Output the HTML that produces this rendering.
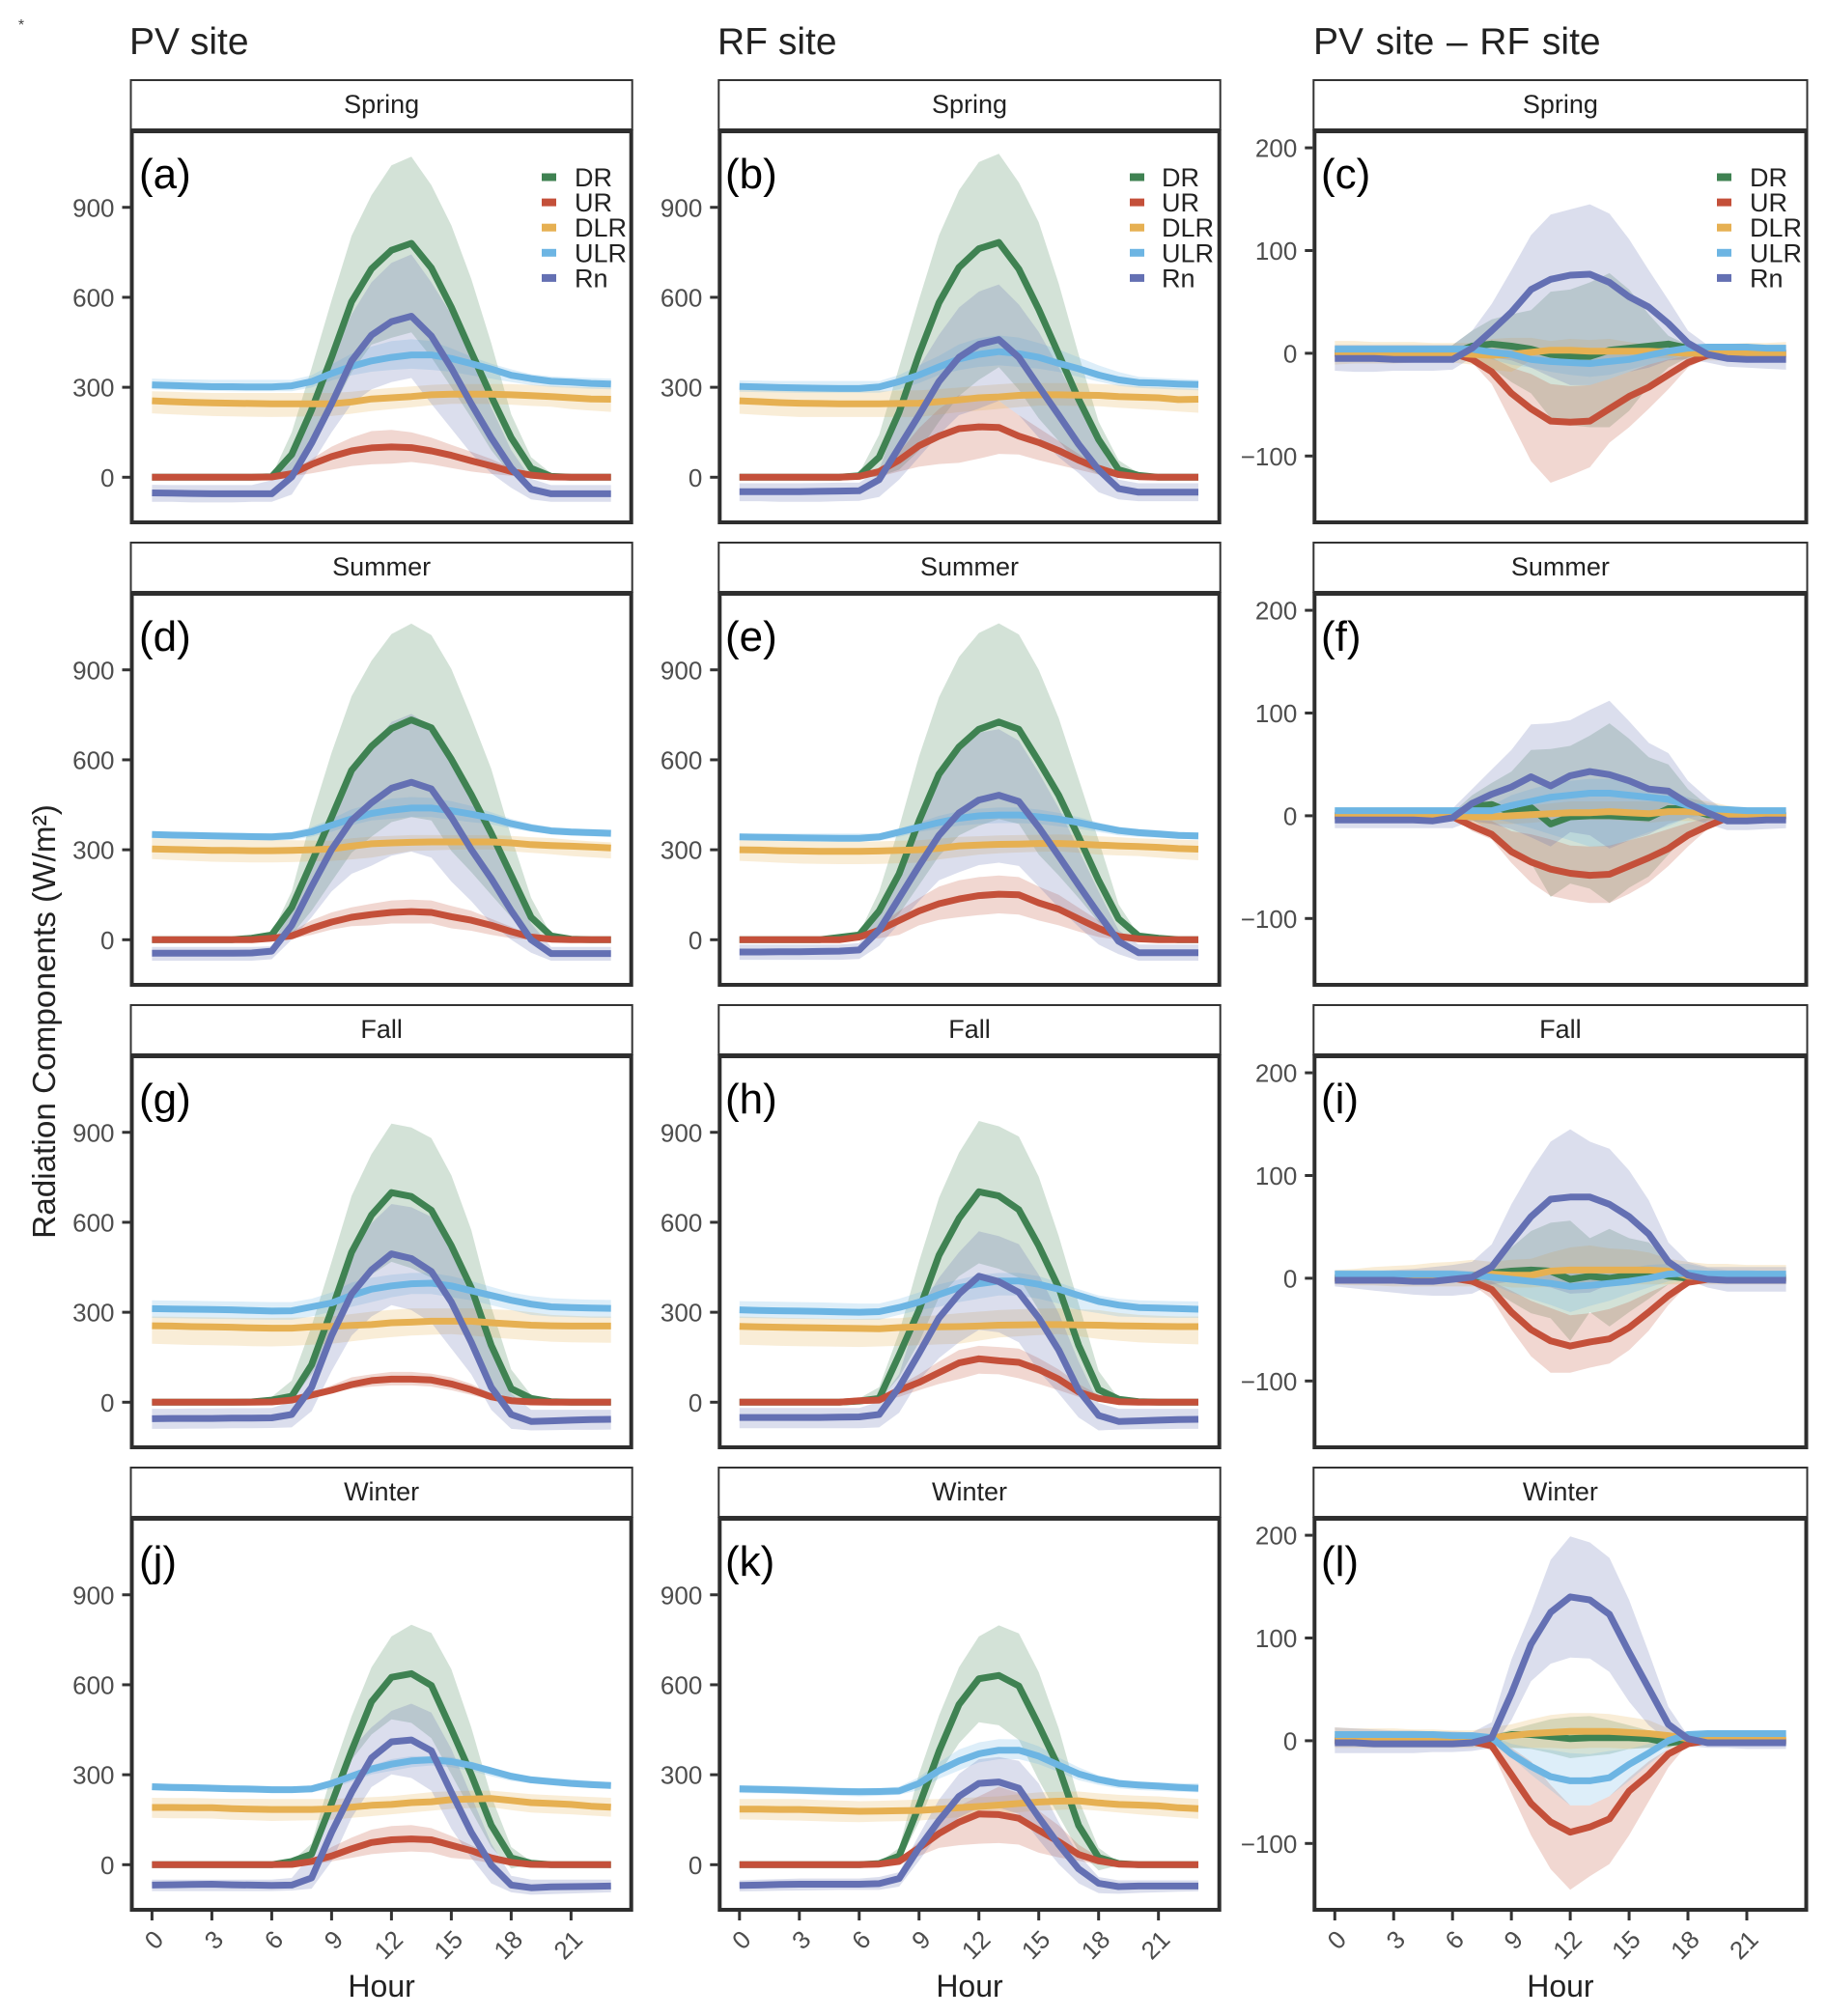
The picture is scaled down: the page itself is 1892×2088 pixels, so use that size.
<!DOCTYPE html>
<html lang="en">
<head>
<meta charset="utf-8">
<title>Radiation Components: PV site vs RF site</title>
<style>
html,body{margin:0;padding:0;background:#fff;}
svg{display:block;font-family:"Liberation Sans",sans-serif;}
</style>
</head>
<body>
<svg id="chart" xmlns="http://www.w3.org/2000/svg" width="1892" height="2088" viewBox="0 0 1892 2088">
<rect x="0" y="0" width="1892" height="2088" fill="#fff"/>
<text x="22" y="31" font-size="16" fill="#444" text-anchor="middle">*</text>
<text x="134" y="56" font-size="39" fill="#222">PV site</text>
<text x="743" y="56" font-size="39" fill="#222">RF site</text>
<text x="1360" y="56" font-size="39" fill="#222" word-spacing="1.8">PV site – RF site</text>
<text transform="translate(57,1058) rotate(-90)" font-size="33.3" fill="#222" text-anchor="middle">Radiation Components (W/m²)</text>
</svg>
<script>
const hours=[0,1,2,3,4,5,6,7,8,9,10,11,12,13,14,15,16,17,18,19,20,21,22,23];
const hourTicks=[0,3,6,9,12,15,18,21];
const hourTickLabels=['0','3','6','9','12','15','18','21'];
const fluxTicks=[0,300,600,900];
const fluxTickLabels=['0','300','600','900'];
const diffTicks=[-100,0,100,200];
const diffTickLabels=['−100','0','100','200'];
const seasons=['Spring','Summer','Fall','Winter'];
const seriesNames=['DR','UR','DLR','ULR','Rn'];
const panelIds=['a','b','c','d','e','f','g','h','i','j','k','l'];

const a_DR=[0,0,0,0,0,0,2,76,225,400,585,695,757,780,698,567,418,270,132,30,3,0,0,0];
const a_DR_hi=[0,0,0,0,0,0,5,150,364,590,805,940,1040,1069,974,840,662,448,210,67,13,0,0,0];
const a_DR_lo=[0,0,0,0,0,0,0,7,90,220,350,442,465,483,400,300,198,90,7,0,0,0,0,0];
const a_UR=[0,0,0,0,0,0,1,12,43,69,88,98,101,99,88,73,55,38,19,7,1,0,0,0];
const a_UR_hi=[0,0,0,0,0,0,1,21,61,102,132,154,158,150,132,108,85,61,31,10,1,0,0,0];
const a_UR_lo=[0,0,0,0,0,0,0,3,13,25,37,43,45,51,43,31,19,11,5,0,0,0,0,0];
const a_DLR=[255,252,250,248,247,246,245,245,245,245,251,261,265,269,275,277,277,277,275,272,269,265,261,260];
const a_DLR_hi=[287,285,283,281,281,281,281,281,281,281,285,292,298,303,308,311,311,311,311,308,305,302,300,299];
const a_DLR_lo=[213,210,207,204,203,202,201,202,203,204,212,221,227,233,240,245,245,244,242,238,235,227,222,218];
const a_ULR=[308,306,304,302,302,301,301,305,319,346,370,388,400,408,408,396,379,361,340,329,320,317,313,311];
const a_ULR_hi=[329,327,326,325,325,325,325,325,340,376,412,436,454,460,454,430,402,379,360,344,336,333,331,329];
const a_ULR_lo=[293,291,289,288,287,287,287,287,299,323,340,352,358,362,358,352,340,329,317,307,301,298,295,293];
const a_Rn=[-52,-53,-54,-55,-55,-55,-55,1,114,245,388,474,519,537,471,364,245,132,31,-40,-55,-55,-55,-55];
const a_Rn_hi=[-25,-26,-26,-26,-26,-26,-10,55,245,400,543,650,715,743,650,543,400,233,90,-5,-26,-26,-26,-26];
const a_Rn_lo=[-82,-82,-84,-84,-84,-82,-82,-58,43,150,245,293,317,331,245,162,79,13,-35,-74,-82,-82,-82,-82];

const b_DR=[0,0,0,0,0,0,5,67,217,410,582,700,762,783,694,560,410,260,126,25,6,0,0,0];
const b_DR_hi=[0,0,0,0,0,0,14,142,367,592,807,957,1051,1079,983,850,646,410,185,57,14,0,0,0];
const b_DR_lo=[0,0,0,0,0,0,0,3,25,89,185,271,325,367,292,196,121,46,9,0,0,0,0,0];
const b_UR=[0,0,0,0,0,0,3,19,57,105,137,162,168,166,137,116,89,57,30,9,2,0,0,0];
const b_UR_hi=[0,0,0,0,0,0,3,19,84,164,228,274,271,255,207,164,121,78,35,6,2,0,0,0];
const b_UR_lo=[0,0,0,0,0,0,0,2,19,35,44,48,62,78,76,57,41,25,9,1,0,0,0,0];
const b_DLR=[255,252,249,247,246,245,245,245,246,247,252,258,265,268,273,275,275,274,273,269,267,265,259,260];
const b_DLR_hi=[292,291,289,288,288,288,288,288,289,290,294,299,305,310,314,314,314,314,311,308,303,300,297,294];
const b_DLR_lo=[212,208,204,201,201,201,201,201,201,201,209,217,222,228,234,239,239,238,237,232,228,224,219,215];
const b_ULR=[303,301,299,298,297,296,296,301,319,341,368,394,410,419,412,400,380,362,341,325,316,314,311,309];
const b_ULR_hi=[323,322,321,321,321,321,321,321,341,373,405,443,464,473,466,448,426,400,373,351,335,331,328,325];
const b_ULR_lo=[285,284,283,282,282,282,282,282,293,314,341,357,368,373,368,362,351,335,319,305,298,295,292,290];
const b_Rn=[-48,-48,-48,-48,-47,-46,-45,-8,100,207,319,400,443,459,400,303,207,110,25,-38,-50,-50,-50,-50];
const b_Rn_hi=[-20,-20,-20,-20,-19,-18,-18,25,207,367,475,566,619,643,576,485,367,244,110,-8,-20,-20,-20,-20];
const b_Rn_lo=[-80,-80,-82,-82,-82,-80,-79,-66,-8,67,142,207,229,255,207,132,67,14,-50,-74,-80,-80,-80,-80];

const c_DR=[0,0,0,0,0,0,0,7,9,7,4,-1,-3,-3,3,5,7,9,5,1,0,0,0,0];
const c_DR_hi=[0,0,0,0,0,0,8,22,33,38,42,60,62,69,78,62,38,17,8,0,0,0,0,0];
const c_DR_lo=[0,0,0,0,0,0,0,-4,-14,-28,-39,-63,-70,-72,-72,-56,-32,-14,-4,0,0,0,0,0];
const c_UR=[0,0,0,0,0,0,0,-6,-18,-39,-54,-66,-67,-66,-54,-42,-33,-21,-9,-2,0,0,0,0];
const c_UR_hi=[0,0,0,0,0,0,0,0,-4,-14,-20,-30,-32,-31,-25,-18,-11,-6,-2,0,0,0,0,0];
const c_UR_lo=[0,0,0,0,0,0,0,-9,-30,-67,-105,-126,-119,-111,-87,-72,-54,-35,-14,-4,0,0,0,0];
const c_DLR=[0,0,0,0,0,0,0,-1,-2,-1,1,3,3,2,2,2,2,1,0,0,0,0,-1,-1];
const c_DLR_hi=[12,12,11,11,11,10,10,10,14,15,15,12,14,13,14,11,8,7,7,8,9,10,10,11];
const c_DLR_lo=[-11,-10,-10,-10,-9,-9,-9,-11,-16,-18,-7,-9,-11,-11,-7,-6,-4,-5,-6,-7,-7,-8,-9,-9];
const c_ULR=[4,4,4,4,4,4,4,4,1,-1,-6,-8,-9,-10,-8,-6,-2,2,5,6,6,6,5,5];
const c_ULR_hi=[8,8,8,8,8,8,8,8,5,4,2,0,0,0,2,5,7,8,9,9,9,9,8,8];
const c_ULR_lo=[0,0,0,0,0,0,0,0,-6,-11,-14,-18,-21,-23,-21,-16,-11,-6,0,0,0,0,0,0];
const c_Rn=[-5,-5,-5,-6,-6,-6,-6,5,22,40,62,72,76,77,69,55,45,29,10,-1,-5,-6,-6,-6];
const c_Rn_hi=[8,8,8,8,8,8,8,22,48,81,115,135,140,145,136,111,81,52,22,8,8,8,8,8];
const c_Rn_lo=[-17,-18,-18,-17,-17,-17,-16,-4,-4,-7,-14,-23,-31,-31,-25,-18,-14,-7,-6,-9,-13,-14,-15,-16];

const d_DR=[0,0,0,0,0,5,16,108,258,409,565,645,704,733,707,602,484,355,215,75,13,2,0,0];
const d_DR_hi=[0,0,0,0,0,6,22,161,409,624,812,930,1019,1054,1016,903,742,570,344,140,16,2,0,0];
const d_DR_lo=[0,0,0,0,0,0,0,16,97,194,290,344,392,409,398,296,226,150,75,16,0,0,0,0];
const d_UR=[0,0,0,0,0,0,5,13,38,59,75,84,91,94,91,77,65,48,27,9,2,0,0,0];
const d_UR_hi=[0,0,0,0,0,0,6,27,65,91,108,120,131,134,131,113,97,70,43,16,3,0,0,0];
const d_UR_lo=[0,0,0,0,0,0,0,3,16,34,45,48,54,54,54,38,30,16,5,0,0,0,0,0];
const d_DLR=[303,301,300,298,298,297,297,298,300,303,312,320,323,325,326,326,326,326,323,317,314,312,309,306];
const d_DLR_hi=[339,337,335,334,334,333,333,332,331,330,338,344,346,349,349,349,349,349,346,342,339,333,328,325];
const d_DLR_lo=[269,266,263,260,259,258,258,259,261,263,268,274,285,296,298,300,301,301,295,290,285,279,275,271];
const d_ULR=[351,349,348,346,345,344,343,347,360,382,403,421,432,439,439,430,419,406,387,373,363,359,357,355];
const d_ULR_hi=[362,360,359,358,357,356,355,360,376,403,435,454,471,476,473,462,446,425,403,387,376,372,369,366];
const d_ULR_lo=[339,337,336,335,334,332,330,333,344,360,382,398,403,409,409,400,392,385,371,360,353,348,345,342];
const d_Rn=[-45,-45,-45,-45,-45,-44,-38,48,177,301,398,457,505,525,503,409,301,204,97,0,-46,-46,-46,-46];
const d_Rn_hi=[-24,-24,-24,-24,-24,-24,-22,108,258,409,559,645,726,753,710,613,484,344,204,54,-24,-24,-24,-24];
const d_Rn_lo=[-70,-70,-70,-70,-70,-70,-65,0,75,161,220,247,280,294,274,194,129,54,0,-43,-70,-70,-70,-70];

const e_DR=[0,0,0,0,0,8,16,96,220,396,552,643,702,726,702,595,482,343,198,70,13,5,0,0];
const e_DR_hi=[0,0,0,0,0,8,21,161,375,611,809,943,1023,1055,1018,900,739,536,332,118,16,5,0,0];
const e_DR_lo=[0,0,0,0,0,0,0,21,86,182,279,348,380,402,386,284,214,139,59,11,0,0,0,0];
const e_UR=[0,0,0,0,0,0,9,32,64,96,120,136,147,152,150,123,102,70,38,11,3,0,0,0];
const e_UR_hi=[0,0,0,0,0,0,9,48,96,139,177,198,209,214,209,177,150,107,64,21,5,0,0,0];
const e_UR_lo=[0,0,0,0,0,0,0,5,16,48,66,75,82,88,84,64,48,27,9,0,0,0,0,0];
const e_DLR=[300,299,297,296,295,295,295,296,298,300,305,313,316,318,319,321,321,319,316,313,311,308,304,302];
const e_DLR_hi=[332,330,329,328,327,327,327,328,330,332,337,343,345,348,349,350,351,349,345,342,338,336,334,332];
const e_DLR_lo=[263,260,257,254,253,252,252,253,255,257,268,276,284,288,291,293,295,290,284,281,279,274,269,265];
const e_ULR=[343,342,341,340,339,338,338,343,359,375,391,405,413,416,416,410,402,391,377,364,357,353,348,346];
const e_ULR_hi=[354,354,354,354,354,354,354,354,370,391,413,429,437,441,441,434,423,409,391,377,370,365,360,357];
const e_ULR_lo=[332,331,331,331,330,330,330,330,343,359,370,380,386,389,389,386,378,370,359,348,343,340,337,334];
const e_Rn=[-41,-41,-40,-40,-39,-38,-34,32,139,246,348,423,466,482,461,375,279,182,86,-5,-43,-43,-43,-43];
const e_Rn_hi=[-16,-16,-16,-16,-16,-16,-11,86,246,407,546,632,691,702,664,557,439,300,161,32,-16,-16,-16,-16];
const e_Rn_lo=[-67,-67,-67,-67,-67,-67,-64,-21,54,129,198,225,249,257,246,177,107,43,-16,-48,-70,-70,-70,-70];

const f_DR=[0,0,0,0,0,0,0,9,11,3,8,-8,-1,0,0,-1,-2,7,7,1,0,0,0,0];
const f_DR_hi=[0,0,0,0,0,0,3,20,32,43,64,65,68,78,90,75,57,50,26,10,1,0,0,0];
const f_DR_lo=[0,0,0,0,0,0,-1,-4,-16,-32,-46,-79,-66,-71,-85,-70,-59,-38,-18,-5,-1,0,0,0];
const f_UR=[0,0,0,0,0,0,-1,-10,-18,-35,-45,-52,-56,-58,-57,-49,-41,-32,-19,-10,-2,0,0,0];
const f_UR_hi=[0,0,0,0,0,0,0,-4,-5,-15,-18,-23,-29,-30,-29,-24,-19,-13,-7,-2,0,0,0,0];
const f_UR_lo=[0,0,0,0,0,0,-2,-15,-23,-46,-65,-78,-82,-85,-85,-76,-65,-49,-30,-13,-4,0,0,0];
const f_DLR=[0,0,0,0,0,0,0,-1,-1,0,1,2,3,3,4,3,2,4,4,3,1,0,0,0];
const f_DLR_hi=[6,6,6,6,6,5,5,6,7,9,10,12,14,14,14,14,14,14,17,14,10,7,6,6];
const f_DLR_lo=[-5,-5,-5,-5,-5,-5,-5,-7,-8,-8,-7,-5,-4,-4,-4,-5,-7,-5,-5,-5,-5,-5,-5,-5];
const f_ULR=[5,5,5,5,5,5,5,5,5,10,14,18,20,22,22,20,18,16,10,7,6,5,5,5];
const f_ULR_hi=[8,8,8,8,8,8,8,9,10,20,26,31,34,36,36,32,28,24,18,12,9,8,8,8];
const f_ULR_lo=[2,2,2,2,2,2,2,1,-2,-7,-12,-18,-24,-30,-30,-23,-16,-10,-2,1,2,2,2,2];
const f_Rn=[-4,-4,-4,-4,-4,-5,-2,12,21,28,38,29,39,43,40,34,26,24,12,3,-5,-5,-4,-4];
const f_Rn_hi=[3,3,3,3,3,3,7,26,45,64,89,90,93,103,112,92,71,61,34,17,4,3,3,3];
const f_Rn_lo=[-12,-12,-12,-12,-12,-12,-12,-5,-8,-13,-21,-30,-16,-19,-32,-24,-18,-8,-2,-8,-14,-14,-13,-12];

const g_DR=[0,0,0,0,0,1,7,20,125,307,500,624,699,686,640,522,382,190,45,13,2,0,0,0];
const g_DR_hi=[0,0,0,0,0,2,18,72,254,468,688,827,929,916,881,757,575,318,109,24,4,0,0,0];
const g_DR_lo=[0,0,0,0,0,0,0,7,93,211,340,425,468,447,415,318,179,50,2,0,0,0,0,0];
const g_UR=[0,0,0,0,0,0,1,7,24,40,59,72,77,77,74,61,42,18,5,1,0,0,0,0];
const g_UR_hi=[0,0,0,0,0,0,1,10,31,56,83,93,101,101,95,83,61,29,7,1,0,0,0,0];
const g_UR_lo=[0,0,0,0,0,0,0,3,13,31,45,52,56,56,52,40,24,7,0,0,0,0,0,0];
const g_DLR=[255,254,252,251,250,248,247,247,251,253,256,259,265,267,270,270,270,265,261,257,255,254,254,254];
const g_DLR_hi=[286,285,284,283,282,281,281,282,284,286,294,302,308,313,313,313,313,310,307,300,291,288,286,286];
const g_DLR_lo=[195,193,191,190,189,187,186,188,192,195,203,211,217,222,225,227,222,216,211,206,202,200,199,198];
const g_ULR=[312,311,310,309,308,306,304,305,318,331,356,377,388,395,397,388,372,356,340,327,318,316,314,313];
const g_ULR_hi=[340,339,338,337,336,335,334,334,345,366,399,415,425,431,431,420,404,385,366,354,347,344,342,341];
const g_ULR_lo=[281,280,279,278,277,276,275,275,286,302,318,334,350,361,361,350,340,324,307,291,286,284,282,281];
const g_Rn=[-55,-54,-54,-54,-53,-53,-52,-41,50,222,361,441,495,479,436,334,200,50,-41,-64,-62,-60,-58,-57];
const g_Rn_hi=[-22,-22,-21,-21,-20,-20,-19,2,104,307,490,597,661,650,618,500,350,179,29,-25,-25,-25,-25,-25];
const g_Rn_lo=[-89,-89,-88,-88,-87,-87,-86,-84,-30,104,222,286,324,307,265,179,93,-25,-89,-94,-93,-92,-92,-91];

const h_DR=[0,0,0,0,0,0,4,13,157,307,490,613,702,688,642,522,382,190,42,10,2,0,0,0];
const h_DR_hi=[0,0,0,0,0,1,13,50,232,468,682,832,938,920,886,752,554,329,104,13,2,0,0,0];
const h_DR_lo=[0,0,0,0,0,0,0,7,83,200,350,420,463,445,415,307,179,50,2,0,0,0,0,0];
const h_UR=[0,0,0,0,0,0,5,7,40,66,99,131,145,138,133,109,77,34,13,2,0,0,0,0];
const h_UR_hi=[0,0,0,0,0,0,5,15,56,93,136,174,188,184,179,147,109,61,24,4,0,0,0,0];
const h_UR_lo=[0,0,0,0,0,0,0,3,18,40,61,77,95,93,80,61,40,18,2,0,0,0,0,0];
const h_DLR=[253,251,250,249,248,247,246,245,249,251,251,252,254,257,258,259,259,258,257,255,254,253,252,252];
const h_DLR_hi=[286,284,282,280,279,278,278,279,280,286,290,297,302,307,310,312,313,310,307,298,291,288,286,286];
const h_DLR_lo=[192,190,188,187,186,185,184,186,188,190,193,195,205,216,220,224,227,220,211,205,200,197,195,193];
const h_ULR=[308,306,305,304,303,301,300,302,316,334,359,382,395,404,404,393,377,356,336,324,316,314,312,310];
const h_ULR_hi=[337,336,335,334,333,331,329,329,345,366,393,409,425,431,431,420,399,377,356,345,340,338,337,336];
const h_ULR_lo=[281,280,279,278,277,276,275,275,291,307,318,334,345,356,356,345,329,307,297,286,284,282,281,281];
const h_Rn=[-51,-51,-51,-51,-51,-50,-49,-41,50,163,281,361,420,402,366,281,174,40,-44,-64,-62,-60,-58,-57];
const h_Rn_hi=[-19,-19,-19,-19,-19,-19,-19,2,93,307,415,500,570,554,527,425,297,136,-3,-22,-22,-22,-22,-22];
const h_Rn_lo=[-87,-87,-87,-87,-87,-87,-87,-84,-35,72,147,200,241,233,200,104,29,-51,-94,-91,-90,-90,-89,-89];

const i_DR=[0,0,0,0,0,0,0,0,5,7,8,7,-1,2,0,3,6,2,0,0,0,0,0,0];
const i_DR_hi=[0,0,0,0,0,0,0,3,16,30,46,54,56,39,48,39,35,16,3,0,0,0,0,0];
const i_DR_lo=[0,0,0,0,0,0,0,-1,-11,-23,-34,-39,-61,-33,-47,-33,-20,-6,-1,0,0,0,0,0];
const i_UR=[0,0,0,0,0,0,0,-3,-11,-33,-50,-61,-66,-62,-59,-48,-33,-17,-4,-1,0,0,0,0];
const i_UR_hi=[0,0,0,0,0,0,0,-1,-3,-12,-22,-29,-36,-34,-30,-23,-14,-6,-1,0,0,0,0,0];
const i_UR_lo=[0,0,0,0,0,0,0,-6,-20,-50,-76,-92,-92,-87,-83,-70,-51,-26,-6,-1,0,0,0,0];
const i_DLR=[0,0,0,0,0,0,0,3,4,3,3,7,8,8,8,8,8,7,2,1,1,1,1,1];
const i_DLR_hi=[8,9,11,12,13,15,16,18,16,18,19,25,30,32,29,28,25,19,16,14,14,13,13,13];
const i_DLR_lo=[-6,-7,-7,-8,-8,-8,-8,-8,-6,-9,-9,-8,-9,-8,-6,-6,-6,-6,-6,-6,-6,-6,-6,-6];
const i_ULR=[4,4,4,4,4,4,4,3,1,-1,-3,-5,-8,-7,-5,-3,0,4,5,4,4,4,4,4];
const i_ULR_hi=[8,8,8,8,8,8,8,7,5,7,8,8,5,7,8,10,13,14,14,10,8,8,7,7];
const i_ULR_lo=[0,0,0,0,0,0,0,0,-6,-14,-20,-26,-33,-27,-22,-15,-9,-3,0,0,0,0,0,0];
const i_Rn=[-2,-2,-2,-2,-3,-3,-1,1,11,36,60,77,79,79,72,60,43,16,3,-1,-2,-2,-2,-2];
const i_Rn_hi=[5,6,7,8,9,11,13,16,33,72,105,133,145,133,126,105,76,35,16,11,11,11,11,11];
const i_Rn_lo=[-8,-10,-12,-14,-16,-17,-17,-15,-6,-3,-6,-9,-15,-14,-6,-3,-1,0,-2,-9,-13,-13,-13,-13];

const j_DR=[0,0,0,0,0,0,0,11,35,204,380,543,625,637,598,452,301,132,23,5,0,0,0,0];
const j_DR_hi=[0,0,0,0,0,0,1,11,71,301,495,658,761,800,773,652,458,229,59,11,0,0,0,0];
const j_DR_lo=[0,0,0,0,0,0,0,0,23,204,350,434,485,473,422,301,180,59,-13,0,0,0,0,0];
const j_UR=[0,0,0,0,0,0,0,1,11,29,53,74,83,86,83,65,47,23,8,1,0,0,0,0];
const j_UR_hi=[0,0,0,0,0,0,0,1,17,59,90,117,129,132,122,96,65,35,11,0,0,0,0,0];
const j_UR_lo=[0,0,0,0,0,0,0,0,0,11,23,35,41,44,41,23,17,5,0,0,0,0,0,0];
const j_DLR=[191,191,190,190,187,185,184,184,184,186,192,198,201,207,210,217,219,221,214,207,204,201,195,192];
const j_DLR_hi=[223,222,222,221,220,220,219,219,219,219,222,225,229,235,242,245,247,247,241,235,232,229,226,223];
const j_DLR_lo=[156,155,155,154,150,148,146,147,148,150,156,162,168,174,180,186,189,192,182,174,171,168,164,160];
const j_ULR=[260,258,257,255,253,252,250,250,253,271,295,319,335,346,350,344,331,313,295,283,277,271,267,264];
const j_ULR_hi=[271,270,269,268,266,264,262,259,265,283,307,331,352,362,362,359,344,325,307,295,290,285,280,275];
const j_ULR_lo=[247,246,245,244,243,242,241,241,241,253,277,301,313,325,331,325,313,295,279,271,265,260,256,253];
const j_Rn=[-68,-67,-66,-65,-67,-68,-69,-68,-44,108,241,356,410,416,380,241,108,-1,-68,-77,-74,-73,-72,-71];
const j_Rn_hi=[-50,-50,-50,-50,-50,-50,-50,-44,35,217,386,458,513,537,507,386,229,71,-37,-50,-50,-50,-50,-50];
const j_Rn_lo=[-88,-88,-88,-88,-88,-88,-88,-86,-80,11,156,259,301,289,247,120,23,-62,-92,-100,-98,-96,-94,-92];

const k_DR=[0,0,0,0,0,0,0,4,29,196,378,534,620,631,596,465,325,131,24,4,0,0,0,0];
const k_DR_hi=[0,0,0,0,0,0,1,8,56,303,497,658,761,798,771,642,454,217,56,8,0,0,0,0];
const k_DR_lo=[0,0,0,0,0,0,0,0,8,142,303,405,475,465,416,282,163,45,-19,-3,0,0,0,0];
const k_UR=[0,0,0,0,0,0,0,2,11,56,104,142,169,167,155,115,77,34,13,2,0,0,0,0];
const k_UR_hi=[0,0,0,0,0,0,0,2,18,77,142,196,228,260,239,180,131,67,24,0,0,0,0,0];
const k_UR_lo=[0,0,0,0,0,0,0,0,2,29,56,65,70,72,67,40,24,13,0,0,0,0,0,0];
const k_DLR=[185,185,184,184,182,180,178,179,180,181,185,190,194,199,204,209,212,213,206,201,199,196,190,187];
const k_DLR_hi=[219,219,219,219,216,214,212,213,215,217,219,222,225,228,235,241,243,244,238,233,230,228,223,219];
const k_DLR_lo=[151,150,148,147,145,143,142,144,145,147,153,158,164,169,175,180,183,185,180,174,168,163,158,153];
const k_ULR=[253,251,250,248,246,244,243,244,246,271,314,346,370,382,382,362,332,303,284,271,266,262,258,255];
const k_ULR_hi=[266,265,263,262,260,258,255,255,260,292,341,384,408,419,418,395,357,325,298,284,278,275,272,271];
const k_ULR_lo=[239,238,237,235,232,230,228,230,233,249,287,314,341,352,352,335,309,282,266,255,249,246,243,241];
const k_Rn=[-69,-68,-66,-65,-65,-65,-65,-63,-46,56,147,228,271,276,255,158,67,-14,-62,-73,-71,-71,-71,-71];
const k_Rn_hi=[-52,-50,-48,-46,-46,-46,-46,-41,-25,99,217,303,352,359,346,271,142,34,-41,-52,-52,-52,-52,-52];
const k_Rn_lo=[-89,-88,-87,-86,-85,-84,-84,-84,-73,13,104,158,190,190,169,83,2,-62,-95,-97,-94,-92,-90,-89];

const l_DR=[0,0,0,0,0,0,0,0,2,6,6,4,2,3,3,3,2,-2,0,0,0,0,0,0];
const l_DR_hi=[0,0,0,0,0,0,0,0,5,11,16,21,23,24,20,15,10,5,1,0,0,0,0,0];
const l_DR_lo=[0,0,0,0,0,0,0,0,-2,-7,-8,-12,-17,-15,-13,-8,-7,-7,-2,0,0,0,0,0];
const l_UR=[0,0,0,0,0,0,0,-1,-5,-33,-61,-79,-89,-84,-76,-49,-33,-13,-3,0,0,0,0,0];
const l_UR_hi=[0,0,0,0,0,0,0,0,-2,-7,-20,-43,-63,-63,-54,-36,-20,-8,-1,0,0,0,0,0];
const l_UR_lo=[0,0,0,0,0,0,0,-2,-10,-51,-92,-125,-145,-132,-120,-92,-59,-26,-3,0,0,0,0,0];
const l_DLR=[3,3,2,2,2,2,2,2,3,5,7,8,9,9,9,8,7,5,2,2,2,2,2,2];
const l_DLR_hi=[13,12,12,12,11,11,10,10,13,16,21,25,27,27,26,23,20,12,7,7,8,8,8,8];
const l_DLR_lo=[-7,-7,-7,-7,-7,-7,-7,-7,-5,-7,-7,-7,-8,-7,-7,-8,-7,-7,-3,-3,-3,-3,-3,-3];
const l_ULR=[6,6,6,6,6,6,5,5,3,-13,-25,-35,-39,-39,-36,-23,-12,0,6,7,7,7,7,7];
const l_ULR_hi=[9,9,9,9,9,8,8,8,5,-3,-7,-9,-12,-13,-10,-8,-3,5,9,10,10,10,10,10];
const l_ULR_lo=[2,2,2,2,2,2,2,2,0,-16,-33,-48,-63,-63,-54,-39,-23,-8,2,3,3,3,3,3];
const l_Rn=[-2,-2,-3,-3,-3,-3,-3,-2,3,46,94,125,140,137,123,86,51,16,2,-2,-2,-2,-2,-2];
const l_Rn_hi=[13,12,11,10,10,9,9,8,18,79,125,176,199,193,178,137,86,33,5,3,2,2,2,2];
const l_Rn_lo=[-12,-12,-12,-12,-12,-11,-11,-10,-7,20,58,75,81,80,67,38,15,0,-5,-7,-7,-8,-8,-8];

const panelData={
 a:{DR:[a_DR,a_DR_lo,a_DR_hi],UR:[a_UR,a_UR_lo,a_UR_hi],DLR:[a_DLR,a_DLR_lo,a_DLR_hi],ULR:[a_ULR,a_ULR_lo,a_ULR_hi],Rn:[a_Rn,a_Rn_lo,a_Rn_hi]},
 b:{DR:[b_DR,b_DR_lo,b_DR_hi],UR:[b_UR,b_UR_lo,b_UR_hi],DLR:[b_DLR,b_DLR_lo,b_DLR_hi],ULR:[b_ULR,b_ULR_lo,b_ULR_hi],Rn:[b_Rn,b_Rn_lo,b_Rn_hi]},
 c:{DR:[c_DR,c_DR_lo,c_DR_hi],UR:[c_UR,c_UR_lo,c_UR_hi],DLR:[c_DLR,c_DLR_lo,c_DLR_hi],ULR:[c_ULR,c_ULR_lo,c_ULR_hi],Rn:[c_Rn,c_Rn_lo,c_Rn_hi]},
 d:{DR:[d_DR,d_DR_lo,d_DR_hi],UR:[d_UR,d_UR_lo,d_UR_hi],DLR:[d_DLR,d_DLR_lo,d_DLR_hi],ULR:[d_ULR,d_ULR_lo,d_ULR_hi],Rn:[d_Rn,d_Rn_lo,d_Rn_hi]},
 e:{DR:[e_DR,e_DR_lo,e_DR_hi],UR:[e_UR,e_UR_lo,e_UR_hi],DLR:[e_DLR,e_DLR_lo,e_DLR_hi],ULR:[e_ULR,e_ULR_lo,e_ULR_hi],Rn:[e_Rn,e_Rn_lo,e_Rn_hi]},
 f:{DR:[f_DR,f_DR_lo,f_DR_hi],UR:[f_UR,f_UR_lo,f_UR_hi],DLR:[f_DLR,f_DLR_lo,f_DLR_hi],ULR:[f_ULR,f_ULR_lo,f_ULR_hi],Rn:[f_Rn,f_Rn_lo,f_Rn_hi]},
 g:{DR:[g_DR,g_DR_lo,g_DR_hi],UR:[g_UR,g_UR_lo,g_UR_hi],DLR:[g_DLR,g_DLR_lo,g_DLR_hi],ULR:[g_ULR,g_ULR_lo,g_ULR_hi],Rn:[g_Rn,g_Rn_lo,g_Rn_hi]},
 h:{DR:[h_DR,h_DR_lo,h_DR_hi],UR:[h_UR,h_UR_lo,h_UR_hi],DLR:[h_DLR,h_DLR_lo,h_DLR_hi],ULR:[h_ULR,h_ULR_lo,h_ULR_hi],Rn:[h_Rn,h_Rn_lo,h_Rn_hi]},
 i:{DR:[i_DR,i_DR_lo,i_DR_hi],UR:[i_UR,i_UR_lo,i_UR_hi],DLR:[i_DLR,i_DLR_lo,i_DLR_hi],ULR:[i_ULR,i_ULR_lo,i_ULR_hi],Rn:[i_Rn,i_Rn_lo,i_Rn_hi]},
 j:{DR:[j_DR,j_DR_lo,j_DR_hi],UR:[j_UR,j_UR_lo,j_UR_hi],DLR:[j_DLR,j_DLR_lo,j_DLR_hi],ULR:[j_ULR,j_ULR_lo,j_ULR_hi],Rn:[j_Rn,j_Rn_lo,j_Rn_hi]},
 k:{DR:[k_DR,k_DR_lo,k_DR_hi],UR:[k_UR,k_UR_lo,k_UR_hi],DLR:[k_DLR,k_DLR_lo,k_DLR_hi],ULR:[k_ULR,k_ULR_lo,k_ULR_hi],Rn:[k_Rn,k_Rn_lo,k_Rn_hi]},
 l:{DR:[l_DR,l_DR_lo,l_DR_hi],UR:[l_UR,l_UR_lo,l_UR_hi],DLR:[l_DLR,l_DLR_lo,l_DLR_hi],ULR:[l_ULR,l_ULR_lo,l_ULR_hi],Rn:[l_Rn,l_Rn_lo,l_Rn_hi]}
};

(function(){
 var NS='http://www.w3.org/2000/svg';
 var svg=document.getElementById('chart');
 var COLORS={DR:'#3f8252',UR:'#c4503a',DLR:'#e6b052',ULR:'#6db5e3',Rn:'#6470b3'};
 var ROW_STEP=479;
 var COLS=[
  {left:134.5,right:655.7,x0:157.4,x23:632.7,y0:494.3,pxPerUnit:0.3106,ticks:fluxTicks,tickLabels:fluxTickLabels,keyX:561,legendX:595,labelX:144},
  {left:743.3,right:1264.7,x0:765.8,x23:1241,y0:494.3,pxPerUnit:0.3106,ticks:fluxTicks,tickLabels:fluxTickLabels,keyX:1170,legendX:1203,labelX:751},
  {left:1359.3,right:1872.5,x0:1382.3,x23:1849.6,y0:365.9,pxPerUnit:1.064,ticks:diffTicks,tickLabels:diffTickLabels,keyX:1778,legendX:1812,labelX:1368}
 ];
 function make(tag,attrs,parent){
  var el=document.createElementNS(NS,tag);
  for(var k in attrs){el.setAttribute(k,attrs[k]);}
  parent.appendChild(el);
  return el;
 }
 function xScale(col,h){return col.x0+(col.x23-col.x0)*h/23;}
 function yScale(col,row,v){return col.y0+row*ROW_STEP-v*col.pxPerUnit;}

 panelIds.forEach(function(id,idx){
  var row=Math.floor(idx/3), colIdx=idx%3, col=COLS[colIdx];
  var dy=row*ROW_STEP, data=panelData[id];
  var g=make('g',{},svg);
  
  

  var strip=make('rect',{x:col.left+1,y:83+dy,width:col.right-col.left-2,height:51,fill:'#fff',stroke:'#333','stroke-width':2},g);
  
  
  var stripText=make('text',{x:(col.left+col.right)/2,y:117+dy,'font-size':27,fill:'#222','text-anchor':'middle'},g);
  stripText.textContent=seasons[row];
  
  

  seriesNames.forEach(function(name){
   var s=data[name];
   var pts=hours.map(function(h,i){return xScale(col,h).toFixed(1)+','+yScale(col,row,s[2][i]).toFixed(1);});
   for(var i=hours.length-1;i>=0;i--){pts.push(xScale(col,hours[i]).toFixed(1)+','+yScale(col,row,s[1][i]).toFixed(1));}
   var ribbon=make('polygon',{points:pts.join(' '),fill:COLORS[name],'fill-opacity':0.23},g);
   
   
  });
  seriesNames.forEach(function(name){
   var s=data[name];
   var pts=hours.map(function(h,i){return xScale(col,h).toFixed(1)+','+yScale(col,row,s[0][i]).toFixed(1);});
   var line=make('polyline',{points:pts.join(' '),fill:'none',stroke:COLORS[name],'stroke-width':7,'stroke-linejoin':'round','stroke-linecap':'butt'},g);
   
   
  });

  var frame=make('rect',{x:col.left+2,y:136+dy,width:col.right-col.left-4,height:405,fill:'none',stroke:'#2e2e2e','stroke-width':4},g);
  
  

  col.ticks.forEach(function(v,i){
   var y=yScale(col,row,v);
   var tick=make('line',{x1:col.left-8,x2:col.left,y1:y,y2:y,stroke:'#333','stroke-width':3},g);
   
   
   var label=make('text',{x:col.left-16,y:y+9.5,'font-size':26,fill:'#4d4d4d','text-anchor':'end'},g);
   label.textContent=col.tickLabels[i];
   
   
  });

  if(row===3){
   hourTicks.forEach(function(h,i){
    var x=xScale(col,h);
    var tick=make('line',{x1:x,x2:x,y1:543+dy,y2:552+dy,stroke:'#333','stroke-width':3},g);
    
    
    var label=make('text',{transform:'translate('+(x+7)+','+(567+dy)+') rotate(-45)','font-size':26,fill:'#4d4d4d','text-anchor':'end',dy:'0.35em'},g);
    label.textContent=hourTickLabels[i];
    
    
   });
   var axisTitle=make('text',{x:(col.left+col.right)/2,y:2068,'font-size':32,fill:'#222','text-anchor':'middle'},g);
   axisTitle.textContent='Hour';
   
   
  }

  var tag=make('text',{x:col.labelX,y:195+dy,'font-size':44,fill:'#000'},g);
  tag.textContent='('+id+')';
  
  

  if(row===0){
   seriesNames.forEach(function(name,i){
    var cy=183.5+i*26.1;
    var key=make('rect',{x:col.keyX,y:cy-4,width:15,height:8,fill:COLORS[name]},g);
    
    
    var txt=make('text',{x:col.legendX,y:cy+9.5,'font-size':27,fill:'#222'},g);
    txt.textContent=name;
    
    
   });
  }
 });
})();
</script>
</body>
</html>
